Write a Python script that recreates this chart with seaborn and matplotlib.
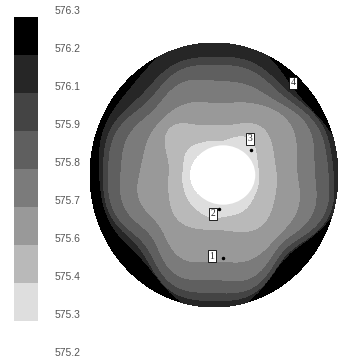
import matplotlib
matplotlib.use("Agg")
import matplotlib.pyplot as plt
import matplotlib.transforms as mtransforms
import numpy as np
import seaborn as sns
from matplotlib.colors import BoundaryNorm, ListedColormap
from matplotlib.patches import Ellipse

# contour levels (uniform steps between 575.2 and 576.3)
level_min = 575.2
level_max = 576.3
tick_labels = ["576.3", "576.2", "576.1", "575.9", "575.8",
               "575.7", "575.6", "575.4", "575.3", "575.2"]
band_colors = ["#ffffff", "#dedede", "#b9b9b9", "#999999", "#7b7b7b",
               "#5f5f5f", "#444444", "#262626", "#000000"]

# boundary radius of each level (L1..L8), read at 16 angles (0, 22.5, ... deg)
angles_deg = np.arange(0, 360, 22.5)
r_L1 = [0.20] * 16
r_L2 = [0.37, 0.38, 0.40, 0.30, 0.26, 0.27, 0.29, 0.27,
        0.26, 0.27, 0.29, 0.31, 0.33, 0.34, 0.37, 0.37]
r_L3 = [0.51, 0.52, 0.53, 0.42, 0.38, 0.42, 0.51, 0.42,
        0.37, 0.40, 0.45, 0.44, 0.42, 0.47, 0.55, 0.53]
r_L4 = [0.68, 0.72, 0.70, 0.60, 0.55, 0.59, 0.60, 0.60,
        0.61, 0.63, 0.60, 0.69, 0.66, 0.71, 0.70, 0.73]
r_L5 = [0.82, 0.85, 0.77, 0.74, 0.72, 0.75, 0.70, 0.76,
        0.76, 0.76, 0.70, 0.82, 0.80, 0.84, 0.76, 0.85]
r_L6 = [0.93, 0.92, 0.83, 0.85, 0.84, 0.84, 0.78, 0.86,
        0.86, 0.85, 0.78, 0.90, 0.90, 0.91, 0.81, 0.93]
r_L7 = [0.97, 0.96, 0.88, 0.91, 0.90, 0.90, 0.85, 0.91,
        0.90, 0.89, 0.83, 0.95, 0.96, 0.95, 0.85, 0.97]
r_L8 = [1.05, 0.98, 0.92, 1.02, 1.05, 1.02, 0.95, 0.96,
        0.93, 0.92, 0.87, 0.96, 1.05, 0.96, 0.86, 0.98]

# measuring points
point_names = ["1", "2", "3", "4"]

bounds = np.linspace(level_min, level_max, 10)


def smooth_ring(vals, n=720):
    # periodic (trigonometric) interpolation of the 16 readings
    c = np.fft.rfft(vals)
    c[-1] *= 0.5
    full = np.zeros(n // 2 + 1, dtype=complex)
    full[:len(c)] = c
    return np.fft.irfft(full, n) * n / len(vals)


n_theta = 720
theta = np.linspace(0, 2 * np.pi, n_theta, endpoint=False)
radii = np.array([smooth_ring(np.array(r, float), n_theta)
                  for r in [r_L1, r_L2, r_L3, r_L4, r_L5, r_L6, r_L7, r_L8]])
radii = np.maximum.accumulate(radii, axis=0)

r_grid = np.linspace(0, 1, 240)
Z = np.empty((len(r_grid), n_theta))
for j in range(n_theta):
    rr = np.concatenate([[0.0], radii[:, j], [radii[-1, j] + 0.2]])
    vv = np.concatenate([[level_min + 0.05], bounds[1:9], [level_max]])
    Z[:, j] = np.interp(r_grid, rr, vv)

# close the ring
theta_c = np.append(theta, 2 * np.pi)
Z = np.hstack([Z, Z[:, :1]])
R, T = np.meshgrid(r_grid, theta_c, indexing="ij")
X = R * np.cos(T)
Y = R * np.sin(T)

sns.set_style("white")
fig = plt.figure(figsize=(3.39, 3.59), dpi=100)

# contour map
ax = fig.add_axes([90 / 339, 52 / 359, 248 / 339, 264 / 359])
ax.contourf(X, Y, Z, levels=bounds, colors=band_colors)
ax.add_patch(Ellipse((0.073, 0.0), 0.52, 0.45, facecolor="white",
                     edgecolor="none", zorder=3))
ax.set_xlim(-1, 1)
ax.set_ylim(-1, 1)
ax.axis("off")

label_xy = [(-0.016, -0.614), (-0.008, -0.295), (0.29, 0.273), (0.637, 0.697)]
dot_xy = [(0.073, -0.629), (0.04, -0.258), (0.298, 0.189), (0.718, 0.636)]
for name, (lx, ly), (dx, dy) in zip(point_names, label_xy, dot_xy):
    ax.text(lx, ly, name, ha="center", va="center", fontsize=7,
            family="Liberation Serif", zorder=5,
            bbox=dict(boxstyle="square,pad=0.15", facecolor="white",
                      edgecolor="black", linewidth=0.6))
    ax.plot(dx, dy, "o", color="black", markersize=1.5, zorder=5)

# colour scale
cax = fig.add_axes([14 / 339, 0, 24 / 339, 342 / 359])
mids = (bounds[:-1] + bounds[1:]) / 2
sns.heatmap(mids[::-1].reshape(-1, 1), ax=cax, cbar=False,
            cmap=ListedColormap(band_colors),
            norm=BoundaryNorm(bounds, len(band_colors)))
cax.yaxis.tick_right()
cax.set_yticks(np.arange(10))
cax.set_yticklabels(tick_labels, fontsize=7.5, color="#555555",
                    family="Liberation Sans", rotation=0)
cax.tick_params(axis="y", length=0, pad=12)
shift = mtransforms.ScaledTranslation(0, 5 / 72, fig.dpi_scale_trans)
for lab in cax.get_yticklabels():
    lab.set_transform(lab.get_transform() + shift)
cax.set_xticks([])
for s in cax.spines.values():
    s.set_visible(False)

fig.savefig("out.png", dpi=100)
